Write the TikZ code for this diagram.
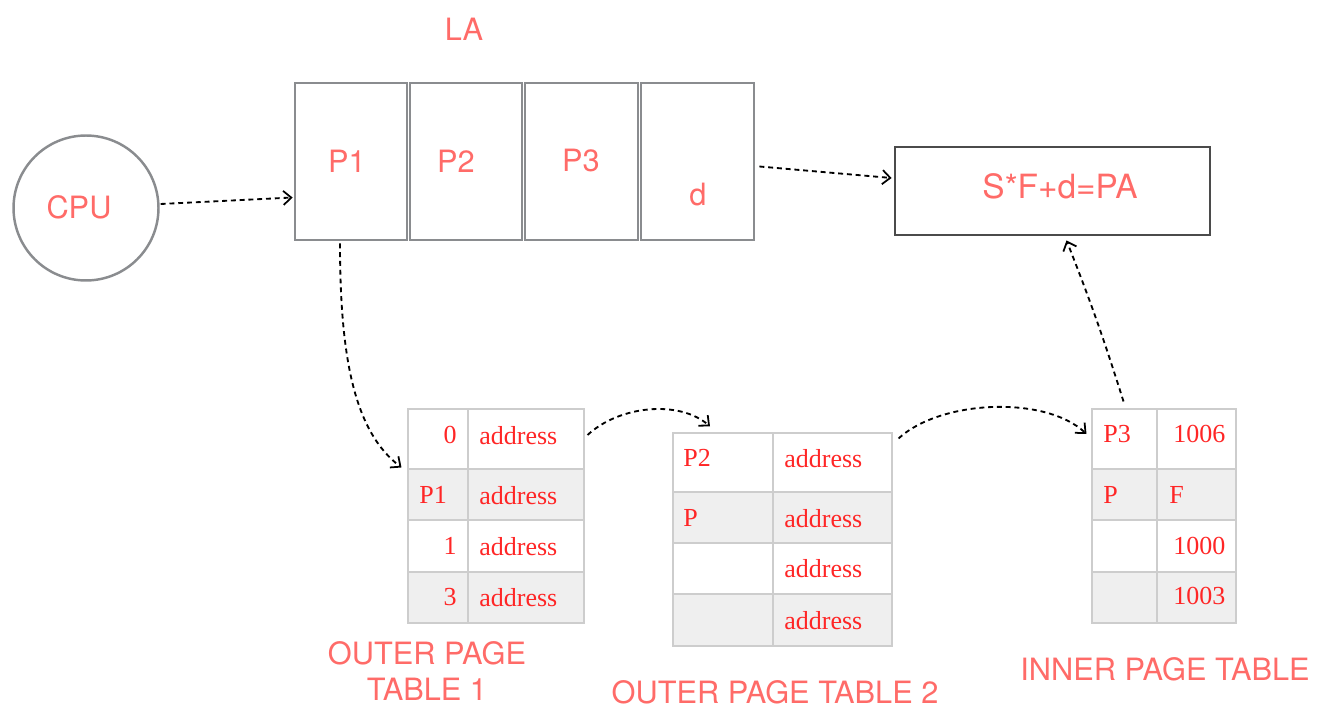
\documentclass[tikz,border=0pt]{standalone}
\usepackage{fontspec}
\setmainfont{Liberation Serif}
\newfontfamily\labelfont{TeX Gyre Heros}
\usetikzlibrary{arrows.meta,fit}

\definecolor{salmon}{RGB}{255,107,104}
\definecolor{tred}{RGB}{255,38,38}
\definecolor{boxgray}{RGB}{138,140,143}
\definecolor{pagray}{RGB}{75,75,75}
\definecolor{gridgray}{RGB}{205,205,205}
\definecolor{shade}{RGB}{239,239,239}

\begin{document}
\begin{tikzpicture}[x=0.02cm,y=-0.02cm,
  lbl/.style={font=\labelfont\fontsize{17.5}{21}\selectfont, text=salmon, inner sep=0},
  val/.style={font=\fontsize{14.8}{16}\selectfont, text=tred, inner sep=0, text depth=0pt},
  field/.style={draw=boxgray, line width=1.6pt, inner sep=0},
  cell/.style={draw=gridgray, line width=0.6pt, inner sep=0},
  shaded/.style={cell, fill=shade},
  conn/.style={-{Straight Barb[length=4.5pt,width=8pt,line width=1pt]},
    line width=1.05pt, dash pattern=on 2.8pt off 2.2pt}]

\useasboundingbox (0,0) rectangle (1327,709);

% CPU
\node[draw=boxgray, line width=1.4pt, circle, minimum size=2.9cm, inner sep=0] (cpu) at (86,208) {};
\node[lbl] (cputext) at (79,207) {CPU};

% logical address fields
\node[field, fit={(295,83) (407,240)}] (la1) {};
\node[field, fit={(410,83) (522,240)}] (la2) {};
\node[field, fit={(525,83) (638,240)}] (la3) {};
\node[field, fit={(641,83) (754,240)}] (la4) {};
\node[lbl] (latext) at (464,29) {LA};
\node[lbl] (p1) at (347,161) {P1};
\node[lbl] (p2) at (456,161) {P2};
\node[lbl] (p3) at (581,161) {P3};
\node[lbl] (dd) at (698,195) {d};

% physical address
\node[draw=pagray, line width=1.6pt, inner sep=0, fit={(895,147) (1210,235)}] (pa) {};
\node[lbl, font=\labelfont\fontsize{19}{22}\selectfont] (patext) at (1060,186) {S*F+d=PA};

% outer page table 1
\node[cell,   fit={(408,409) (468,469)}] (ta0k) {};
\node[cell,   fit={(468,409) (584,469)}] (ta0v) {};
\node[shaded, fit={(408,469) (468,520)}] (ta1k) {};
\node[shaded, fit={(468,469) (584,520)}] (ta1v) {};
\node[cell,   fit={(408,520) (468,572)}] (ta2k) {};
\node[cell,   fit={(468,520) (584,572)}] (ta2v) {};
\node[shaded, fit={(408,572) (468,623)}] (ta3k) {};
\node[shaded, fit={(468,572) (584,623)}] (ta3v) {};
\node[val, anchor=east] at (457,435) {0};
\node[val, anchor=west] at (419,495) {P1};
\node[val, anchor=east] at (457,546) {1};
\node[val, anchor=east] at (457,597) {3};
\foreach \y in {435,495,546,597} \node[val, anchor=west] at (479,\y) {address};
\node[lbl, align=center] (tatitle) at (427,671) {OUTER PAGE\\TABLE 1};

% outer page table 2
\node[cell,   fit={(673,433) (773,492)}] (tb0k) {};
\node[cell,   fit={(773,433) (892,492)}] (tb0v) {};
\node[shaded, fit={(673,492) (773,543)}] (tb1k) {};
\node[shaded, fit={(773,492) (892,543)}] (tb1v) {};
\node[cell,   fit={(673,543) (773,594)}] (tb2k) {};
\node[cell,   fit={(773,543) (892,594)}] (tb2v) {};
\node[shaded, fit={(673,594) (773,646)}] (tb3k) {};
\node[shaded, fit={(773,594) (892,646)}] (tb3v) {};
\node[val, anchor=west] at (683,458) {P2};
\node[val, anchor=west] at (683,518) {P};
\foreach \y in {458,518,568,620} \node[val, anchor=west] at (784,\y) {address};
\node[lbl] (tbtitle) at (775,692) {OUTER PAGE TABLE 2};

% inner page table
\node[cell,   fit={(1092,409) (1157,469)}] (tc0k) {};
\node[cell,   fit={(1157,409) (1236,469)}] (tc0v) {};
\node[shaded, fit={(1092,469) (1157,520)}] (tc1k) {};
\node[shaded, fit={(1157,469) (1236,520)}] (tc1v) {};
\node[cell,   fit={(1092,520) (1157,572)}] (tc2k) {};
\node[cell,   fit={(1157,520) (1236,572)}] (tc2v) {};
\node[shaded, fit={(1092,572) (1157,623)}] (tc3k) {};
\node[shaded, fit={(1157,572) (1236,623)}] (tc3v) {};
\node[val, anchor=west] at (1103,434) {P3};
\node[val, anchor=west] at (1173,434) {1006};
\node[val, anchor=west] at (1103,495) {P};
\node[val, anchor=west] at (1169,495) {F};
\node[val, anchor=west] at (1173,546) {1000};
\node[val, anchor=west] at (1173,596) {1003};
\node[lbl] (tctitle) at (1165,669) {INNER PAGE TABLE};

% connectors
\draw[conn] ([shift={(1,-4)}]cpu.east) -- ([shift={(-1,36)}]la1.west);
\draw[conn] ([shift={(4,5)}]la4.east) -- ([shift={(-2,-13)}]pa.west);
\draw[conn] ([shift={(-11,2)}]la1.south) .. controls (340,360) and (355,432) .. ([shift={(-6,-1)}]ta1k.north west);
\draw[conn] ([shift={(3,-4)}]ta0v.east) .. controls (620,405) and (680,400) .. ([shift={(-13,-6)}]tb0k.north);
\draw[conn] ([shift={(6,-24)}]tb0v.east) .. controls (940,400) and (1045,395) .. ([shift={(-5,-5)}]tc0k.west);
\draw[conn] ([shift={(-1,-7)}]tc0k.north) to[bend right=2] ([shift={(14,4)}]pa.south);
\end{tikzpicture}
\end{document}
